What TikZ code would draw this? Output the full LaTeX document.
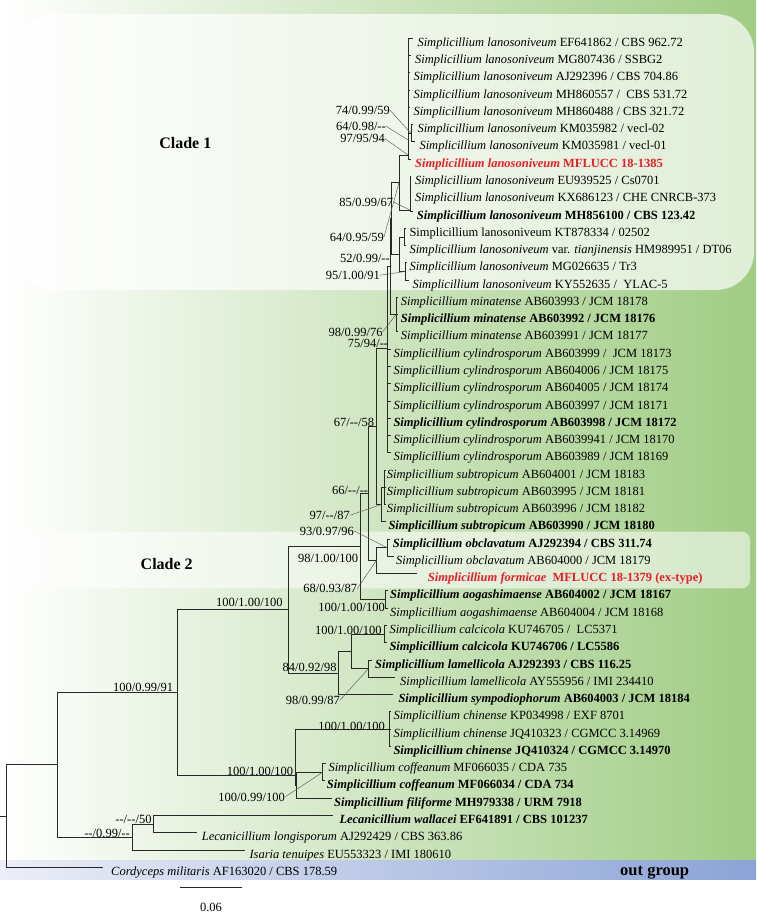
\documentclass[tikz,border=0pt]{standalone}
\usepackage{fontspec}
\setmainfont{Liberation Serif}
\definecolor{bggreen}{RGB}{160,204,132}
\definecolor{ogleft}{RGB}{236,238,248}
\definecolor{ogright}{RGB}{139,163,214}
\definecolor{treec}{RGB}{40,40,40}
\definecolor{redtx}{RGB}{232,30,40}
\newcommand{\twodash}{-{}-}
\begin{document}
\begin{tikzpicture}[x=1pt,y=-1pt,
  br/.style={draw=treec, line width=0.9pt},
  lead/.style={draw=black!65, line width=0.45pt},
  tx/.style={anchor=base west, inner sep=0pt, font=\fontsize{12.5}{14}\selectfont},
  suplab/.style={anchor=base east, inner sep=0pt, font=\fontsize{12.5}{14}\selectfont},
  cladelab/.style={inner sep=0pt, font=\fontsize{16}{18}\selectfont\bfseries},
]
\useasboundingbox (0,0) rectangle (756,918);
% backgrounds
\shade[left color=white, right color=bggreen] (0,0) rectangle (756,860);
\fill[white, fill opacity=0.68, rounded corners=38pt] (15,14) rectangle (754,290);
\fill[white, fill opacity=0.55, rounded corners=8pt] (10,531.7) rectangle (750,588.3);
\shade[left color=ogleft, right color=ogright] (0,860) rectangle (756,879);

\node[cladelab] (c1) at (185.3,143.3) {Clade 1};
\node[cladelab] (c2) at (166.7,564.3) {Clade 2};
\node[inner sep=0pt, font=\fontsize{16.5}{18}\selectfont\bfseries, anchor=base west] (og) at (620,875.5) {out group};

% ---------- internal nodes ----------
\coordinate (R) at (6.7,816);
\coordinate (rootstub) at (0,816);
\coordinate (A) at (57.3,764.7);
\coordinate (B) at (177.3,692.4);
\coordinate (C) at (132.7,837);
\coordinate (D) at (153.3,824.1);
\coordinate (E) at (288.7,609.7);
\coordinate (F) at (295,775);
\coordinate (G) at (389.3,729.1);
\coordinate (H) at (296.5,785.2);
\coordinate (I) at (322.7,772.2);
\coordinate (J) at (360,546.4);
\coordinate (K) at (338.3,673);
\coordinate (L) at (351.7,651.4);
\coordinate (M) at (384.3,634.1);
\coordinate (N) at (368.3,668.7);
\coordinate (O) at (368.3,493.3);
\coordinate (P) at (385,599.5);
\coordinate (Q) at (376.7,560);
\coordinate (obc) at (387.3,547.75);
\coordinate (S) at (376.7,426.7);
\coordinate (U) at (381,504.6);
\coordinate (X1) at (384,487.3);
\coordinate (V) at (387.5,348.3);
\coordinate (Y) at (390,266.3);
\coordinate (nm) at (396,314.6);
\coordinate (Z) at (391.7,218);
\coordinate (nc) at (399,182.5);
\coordinate (na) at (408,155);
\coordinate (n67) at (411,133.3);
\coordinate (nb) at (410,210);
\coordinate (ne) at (399,254);
\coordinate (nf) at (404,237);
\coordinate (ng) at (405,271.5);

% ---------- leaf tips ----------
\coordinate (l1) at (413.3,38.3);
\coordinate (l2) at (411,55.6);
\coordinate (l3) at (409.5,72.8);
\coordinate (l4) at (409.5,90.1);
\coordinate (l5) at (409.5,107.4);
\coordinate (l6) at (413.3,124.7);
\coordinate (l7) at (415.3,141.9);
\coordinate (l8) at (411,159.2);
\coordinate (l9) at (411,176.5);
\coordinate (l10) at (411,193.7);
\coordinate (l11) at (412.7,211);
\coordinate (l12) at (406,228.3);
\coordinate (l13) at (406,245.5);
\coordinate (l14) at (407,262.8);
\coordinate (l15) at (409,280.1);
\coordinate (l16) at (398,297.4);
\coordinate (l17) at (398,314.6);
\coordinate (l18) at (398,331.9);
\coordinate (l19) at (391,349.2);
\coordinate (l20) at (391,366.4);
\coordinate (l21) at (391,383.7);
\coordinate (l22) at (391,401);
\coordinate (l23) at (391,418.2);
\coordinate (l24) at (391,435.5);
\coordinate (l25) at (391,452.8);
\coordinate (l26) at (385.5,470.1);
\coordinate (l27) at (385.5,487.3);
\coordinate (l28) at (385.5,504.6);
\coordinate (l29) at (386,521.9);
\coordinate (l30) at (390,539.1);
\coordinate (l31) at (394,556.4);
\coordinate (l32) at (416.7,573.7);
\coordinate (l33) at (387.5,590.9);
\coordinate (l34) at (387.5,608.2);
\coordinate (l35) at (386.5,625.5);
\coordinate (l36) at (386.5,642.8);
\coordinate (l37) at (372,660);
\coordinate (l38) at (395,677.3);
\coordinate (l39) at (393.3,694.6);
\coordinate (l40) at (391,711.8);
\coordinate (l41) at (391,729.1);
\coordinate (l42) at (391,746.4);
\coordinate (l43) at (325.5,763.6);
\coordinate (l44) at (324.5,780.9);
\coordinate (l45) at (331.7,798.2);
\coordinate (l46) at (333.3,815.5);
\coordinate (l47) at (196.7,832.7);
\coordinate (l48) at (245,850);
\coordinate (l49) at (103,867.3);

% ---------- branches ----------
\draw[br] (rootstub) -- (R);
\draw[br] (R) |- (A);  \draw[br] (R) |- (l49);
\draw[br] (A) |- (B);  \draw[br] (A) |- (C);
\draw[br] (C) |- (D);  \draw[br] (C) |- (l48);
\draw[br] (D) |- (l46); \draw[br] (D) |- (l47);
\draw[br] (B) |- (E);  \draw[br] (B) |- (F);
\draw[br] (F) |- (G);  \draw[br] (F) |- (H);
\draw[br] (G) |- (l40); \draw[br] (G) |- (l41); \draw[br] (G) |- (l42);
\draw[br] (H) |- (I);  \draw[br] (H) |- (l45);
\draw[br] (I) |- (l43); \draw[br] (I) |- (l44);
\draw[br] (E) |- (J);  \draw[br] (E) |- (K);
\draw[br] (K) |- (L);  \draw[br] (K) |- (l39);
\draw[br] (L) |- (M);  \draw[br] (L) |- (N);
\draw[br] (M) |- (l35); \draw[br] (M) |- (l36);
\draw[br] (N) |- (l37); \draw[br] (N) |- (l38);
\draw[br] (J) |- (O);  \draw[br] (J) |- (P);
\draw[br] (P) |- (l33); \draw[br] (P) |- (l34);
\draw[br] (O) |- (S);  \draw[br] (O) |- (Q);
\draw[br] (Q) |- (obc); \draw[br] (Q) |- (l32);
\draw[br] (obc) |- (l30); \draw[br] (obc) |- (l31);
\draw[br] (S) |- (V);  \draw[br] (S) |- (U);
\draw[br] (U) |- (X1); \draw[br] (U) |- (l29);
\draw[br] (X1) |- (l26); \draw[br] (X1) |- (l27); \draw[br] (X1) |- (l28);
\draw[br] (V) |- (Y);
\foreach \k in {19,...,25} {\draw[br] (V) |- (l\k);}
\draw[br] (Y) |- (Z);  \draw[br] (Y) |- (nm);
\foreach \k in {16,17,18} {\draw[br] (nm) |- (l\k);}
\draw[br] (Z) |- (nc); \draw[br] (Z) |- (ne);
\draw[br] (nc) |- (na); \draw[br] (nc) |- (nb);
\foreach \k in {1,2,3,4,5,8} {\draw[br] (na) |- (l\k);}
\draw[br] (na) |- (n67);
\draw[br] (n67) |- (l6); \draw[br] (n67) |- (l7);
\foreach \k in {9,10,11} {\draw[br] (nb) |- (l\k);}
\draw[br] (ne) |- (nf); \draw[br] (ne) |- (ng);
\draw[br] (nf) |- (l12); \draw[br] (nf) |- (l13);
\draw[br] (ng) |- (l14); \draw[br] (ng) |- (l15);

% scale bar
\coordinate (sb1) at (180,887.7);
\coordinate (sb2) at (242.3,887.7);
\draw[br] (sb1) -- (sb2);
\node[tx, anchor=base] (sbl) at (211,911) {0.06};

% ---------- taxon labels ----------
\node[tx] (t1) at (417.3,46.3) {\textit{Simplicillium lanosoniveum} EF641862 / CBS 962.72};
\node[tx] (t2) at (415,63.6) {\textit{Simplicillium lanosoniveum} MG807436 / SSBG2};
\node[tx] (t3) at (413.3,80.8) {\textit{Simplicillium lanosoniveum} AJ292396 / CBS 704.86};
\node[tx] (t4) at (413.3,98.1) {\textit{Simplicillium lanosoniveum} MH860557 /\ \ CBS 531.72};
\node[tx] (t5) at (413.3,115.4) {\textit{Simplicillium lanosoniveum} MH860488 / CBS 321.72};
\node[tx] (t6) at (417.3,132.7) {\textit{Simplicillium lanosoniveum} KM035982 / vecl-02};
\node[tx] (t7) at (419.3,149.9) {\textit{Simplicillium lanosoniveum} KM035981 / vecl-01};
\node[tx, text=redtx] (t8) at (415,167.2) {\textbf{\textit{Simplicillium lanosoniveum} MFLUCC 18-1385}};
\node[tx] (t9) at (415,184.5) {\textit{Simplicillium lanosoniveum} EU939525 / Cs0701};
\node[tx] (t10) at (415,201.7) {\textit{Simplicillium lanosoniveum} KX686123 / CHE CNRCB-373};
\node[tx] (t11) at (416.7,219) {\textbf{\textit{Simplicillium lanosoniveum} MH856100 / CBS 123.42}};
\node[tx] (t12) at (409.3,236.3) {Simplicillium lanosoniveum KT878334 / 02502};
\node[tx] (t13) at (409.3,253.5) {\textit{Simplicillium lanosoniveum} var. \textit{tianjinensis} HM989951 / DT06};
\node[tx] (t14) at (409.3,270.8) {\textit{Simplicillium lanosoniveum} MG026635 / Tr3};
\node[tx] (t15) at (412.3,288.1) {\textit{Simplicillium lanosoniveum} KY552635 /\ \ YLAC-5};
\node[tx] (t16) at (400.7,305.4) {\textit{Simplicillium minatense} AB603993 / JCM 18178};
\node[tx] (t17) at (400.7,322.6) {\textbf{\textit{Simplicillium minatense} AB603992 / JCM 18176}};
\node[tx] (t18) at (400.7,339.9) {\textit{Simplicillium minatense} AB603991 / JCM 18177};
\node[tx] (t19) at (393.3,357.2) {\textit{Simplicillium cylindrosporum} AB603999 /\ \ JCM 18173};
\node[tx] (t20) at (393.3,374.4) {\textit{Simplicillium cylindrosporum} AB604006 / JCM 18175};
\node[tx] (t21) at (393.3,391.7) {\textit{Simplicillium cylindrosporum} AB604005 / JCM 18174};
\node[tx] (t22) at (393.3,409) {\textit{Simplicillium cylindrosporum} AB603997 / JCM 18171};
\node[tx] (t23) at (393.3,426.2) {\textbf{\textit{Simplicillium cylindrosporum} AB603998 / JCM 18172}};
\node[tx] (t24) at (393.3,443.5) {\textit{Simplicillium cylindrosporum} AB6039941 / JCM 18170};
\node[tx] (t25) at (393.3,460.8) {\textit{Simplicillium cylindrosporum} AB603989 / JCM 18169};
\node[tx] (t26) at (386.7,478.1) {\textit{Simplicillium subtropicum} AB604001 / JCM 18183};
\node[tx] (t27) at (386.7,495.3) {\textit{Simplicillium subtropicum} AB603995 / JCM 18181};
\node[tx] (t28) at (386.7,512.6) {\textit{Simplicillium subtropicum} AB603996 / JCM 18182};
\node[tx] (t29) at (388.3,529.9) {\textbf{\textit{Simplicillium subtropicum} AB603990 / JCM 18180}};
\node[tx] (t30) at (392.7,547.1) {\textbf{\textit{Simplicillium obclavatum} AJ292394 / CBS 311.74}};
\node[tx] (t31) at (396,564.4) {\textit{Simplicillium obclavatum} AB604000 / JCM 18179};
\node[tx, text=redtx] (t32) at (427.7,581.7) {\textbf{\textit{Simplicillium formicae}\ \ MFLUCC 18-1379 (ex-type)}};
\node[tx] (t33) at (390,598.9) {\textbf{\textit{Simplicillium aogashimaense} AB604002 / JCM 18167}};
\node[tx] (t34) at (390,616.2) {\textit{Simplicillium aogashimaense} AB604004 / JCM 18168};
\node[tx] (t35) at (389.3,633.5) {\textit{Simplicillium calcicola} KU746705 /\ \ LC5371};
\node[tx] (t36) at (389.3,650.8) {\textbf{\textit{Simplicillium calcicola} KU746706 / LC5586}};
\node[tx] (t37) at (375,668) {\textbf{\textit{Simplicillium lamellicola} AJ292393 / CBS 116.25}};
\node[tx] (t38) at (400,685.3) {\textit{Simplicillium lamellicola} AY555956 / IMI 234410};
\node[tx] (t39) at (398.3,702.6) {\textbf{\textit{Simplicillium sympodiophorum} AB604003 / JCM 18184}};
\node[tx] (t40) at (393.3,719.8) {\textit{Simplicillium chinense} KP034998 / EXF 8701};
\node[tx] (t41) at (393.3,737.1) {\textit{Simplicillium chinense} JQ410323 / CGMCC 3.14969};
\node[tx] (t42) at (393.3,754.4) {\textbf{\textit{Simplicillium chinense} JQ410324 / CGMCC 3.14970}};
\node[tx] (t43) at (328.3,771.6) {\textit{Simplicillium coffeanum} MF066035 / CDA 735};
\node[tx] (t44) at (326.7,788.9) {\textbf{\textit{Simplicillium coffeanum} MF066034 / CDA 734}};
\node[tx] (t45) at (334,806.2) {\textbf{\textit{Simplicillium filiforme} MH979338 / URM 7918}};
\node[tx] (t46) at (339.3,823.5) {\textbf{\textit{Lecanicillium wallacei} EF641891 / CBS 101237}};
\node[tx] (t47) at (201.7,840.7) {\textit{Lecanicillium longisporum} AJ292429 / CBS 363.86};
\node[tx] (t48) at (249.3,858) {\textit{Isaria tenuipes} EU553323 / IMI 180610};
\node[tx] (t49) at (111,875.3) {\textit{Cordyceps militaris} AF163020 / CBS 178.59};

% ---------- support values ----------
\node[suplab] (s1) at (390,114.3) {74/0.99/59};
\node[suplab] (s2) at (386,130.3) {64/0.98/\twodash};
\node[suplab] (s3) at (385,142.8) {97/95/94};
\node[suplab] (s4) at (393.3,206) {85/0.99/67};
\node[suplab] (s5) at (384,241) {64/0.95/59};
\node[suplab] (s6) at (390,262.8) {52/0.99/\twodash};
\node[suplab] (s7) at (380,279.3) {95/1.00/91};
\node[suplab] (s8) at (382.7,336) {98/0.99/76};
\node[suplab] (s9) at (388.3,347.3) {75/94/\twodash};
\node[suplab] (s10) at (374.3,426.6) {67/\twodash/58};
\node[suplab] (s11) at (368.3,494.3) {66/\twodash/\twodash};
\node[suplab] (s12) at (350,519.3) {97/\twodash/87};
\node[suplab] (s13) at (354,535) {93/0.97/96};
\node[suplab] (s14) at (358.3,562.6) {98/1.00/100};
\node[suplab] (s15) at (357.3,592.6) {68/0.93/87};
\node[suplab] (s16) at (385,611) {100/1.00/100};
\node[suplab] (s17) at (381.7,634) {100/1.00/100};
\node[suplab] (s18) at (336.7,671) {84/0.92/98};
\node[suplab] (s19) at (340,704.3) {98/0.99/87};
\node[suplab] (s20) at (385,730.3) {100/1.00/100};
\node[suplab] (s21) at (293.3,775) {100/1.00/100};
\node[suplab] (s22) at (285,801) {100/0.99/100};
\node[suplab] (s23) at (282.7,606) {100/1.00/100};
\node[suplab] (s24) at (173.3,691) {100/0.99/91};
\node[suplab] (s25) at (151.7,823.6) {\twodash/\twodash/50};
\node[suplab] (s26) at (130,837.6) {\twodash/0.99/\twodash};

% ---------- leader lines ----------
\draw[lead] (s1.east) -- (n67);
\draw[lead] (s2.east) -- (408.3,140);
\draw[lead] (s3.east) -- (na);
\draw[lead] (s4.east) -- (nb);
\draw[lead] (s5.east) -- (nc);
\draw[lead] (s7.east) -- (ng);
\draw[lead] (s8.east) -- (nm);
\draw[lead] (s12.east) -- (U);
\draw[lead] (s13.east) -- (obc);
\draw[lead] (s15.east) -- (Q);
\draw[lead] (s19.east) -- (N);
\draw[lead] (s22.east) -- (I);
\end{tikzpicture}
\end{document}
